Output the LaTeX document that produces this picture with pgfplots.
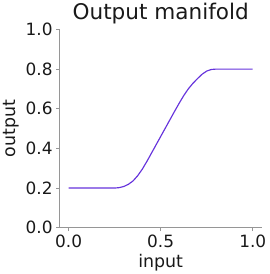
\documentclass[border=0pt]{standalone}
\usepackage{fontspec}
\setmainfont{DejaVu Sans}
\usepackage{pgfplots}
\pgfplotsset{compat=1.18}
\definecolor{linec}{RGB}{102,51,220}
\definecolor{spine}{RGB}{150,150,150}
\begin{document}
\begin{tikzpicture}
\begin{axis}[
  scale only axis,
  width=209.4pt, height=205pt,
  xmin=-0.05, xmax=1.05, ymin=0, ymax=1,
  axis x line*=bottom, axis y line*=left,
  axis line style={spine, line width=0.8pt},
  xtick={0,0.5,1}, ytick={0,0.2,0.4,0.6,0.8,1},
  tick style={spine, line width=0.8pt},
  tick align=outside, major tick length=3.5pt,
  /pgf/number format/assume math mode=true,
  /pgf/number format/.cd, fixed, fixed zerofill, precision=1, /pgfplots/.cd,
  ticklabel style={font=\fontsize{17.5}{20}\selectfont, text=black!90},
  xlabel={input}, ylabel={output},
  label style={font=\fontsize{18}{20}\selectfont, text=black!90},
  title={Output manifold},
  title style={font=\fontsize{22.3}{24}\selectfont, text=black!90, yshift=-4pt},
  clip=false,
]
\addplot[linec, line width=1.2pt, line join=round] coordinates {
(0,0.2) (0.05,0.2) (0.1,0.2) (0.15,0.2) (0.2,0.2) (0.25,0.2)
(0.275,0.202) (0.3,0.208) (0.325,0.219) (0.35,0.236) (0.375,0.262)
(0.4,0.295) (0.425,0.334) (0.45,0.376) (0.475,0.418) (0.5,0.46)
(0.525,0.502) (0.55,0.544) (0.575,0.586) (0.6,0.627) (0.625,0.666)
(0.65,0.700) (0.675,0.728) (0.7,0.752) (0.725,0.774) (0.75,0.790)
(0.775,0.798) (0.8,0.80) (0.85,0.80) (0.9,0.80) (0.95,0.80) (1.0,0.80)
};
\end{axis}
\end{tikzpicture}
\end{document}
